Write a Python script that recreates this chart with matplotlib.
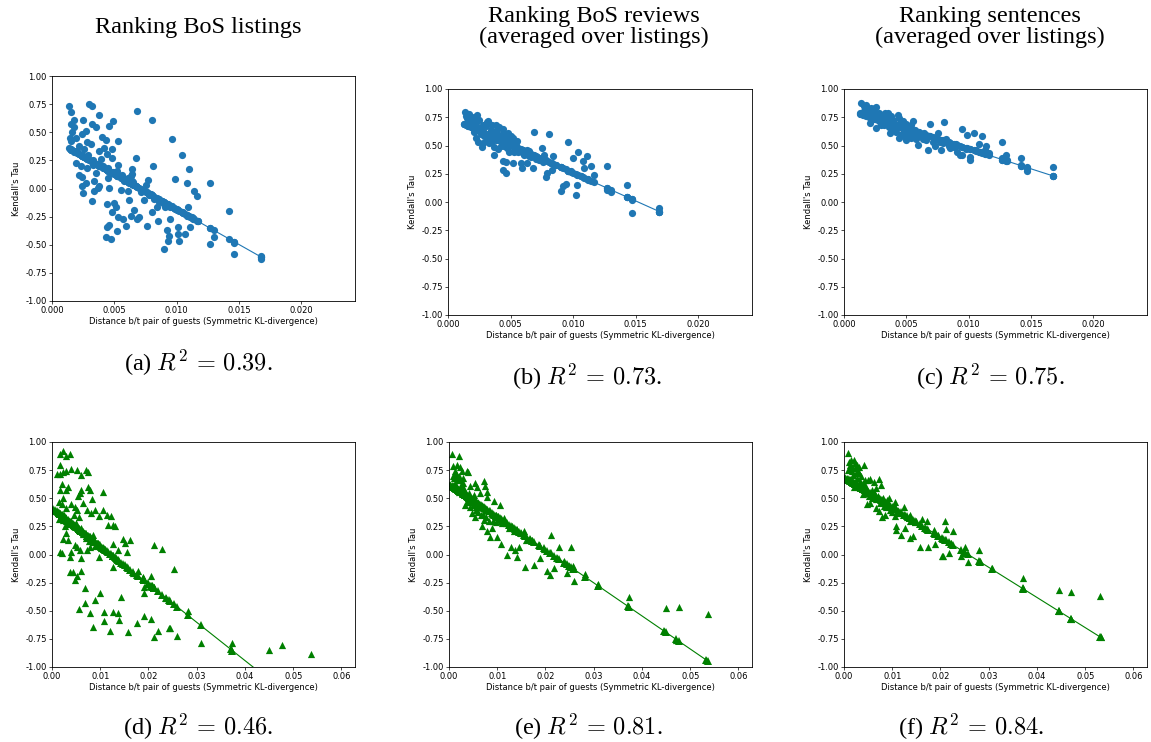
import numpy as np
import matplotlib
matplotlib.use("Agg")
import matplotlib.pyplot as plt

plt.rcParams['mathtext.fontset'] = 'cm'

# ---- data ---------------------------------------------------------------
# (a) ranking BoS listings
x_a = [0.00134, 0.00155, 0.0015, 0.00174, 0.0016, 0.00147, 0.00155, 0.0018, 0.0019, 0.0019,
       0.00214, 0.0024, 0.0024, 0.0025, 0.0023, 0.0022, 0.0024, 0.0025, 0.0027, 0.003,
       0.0032, 0.0032, 0.0035, 0.0038, 0.0031, 0.0028, 0.0026, 0.0028, 0.0027, 0.0032,
       0.0034, 0.0037, 0.0038, 0.0034, 0.0035, 0.0033, 0.0038, 0.004, 0.0043, 0.0044,
       0.0042, 0.0045, 0.0046, 0.0049, 0.0053, 0.0048, 0.0048, 0.0053, 0.0046, 0.0055,
       0.005, 0.0051, 0.0048, 0.0044, 0.0044, 0.0046, 0.0043, 0.0047, 0.0052, 0.0053,
       0.0057, 0.0059, 0.0061, 0.0062, 0.0064, 0.0064, 0.0063, 0.0066, 0.0067, 0.0068,
       0.0068, 0.007, 0.0076, 0.0074, 0.0075, 0.0077, 0.008, 0.0081, 0.008, 0.0084,
       0.0085, 0.0091, 0.0092, 0.0094, 0.0093, 0.009, 0.0096, 0.0095, 0.0099, 0.0101,
       0.0101, 0.0102, 0.0104, 0.0107, 0.0108, 0.0109, 0.011, 0.0111, 0.0114, 0.0116,
       0.0127, 0.0127, 0.013, 0.0142, 0.0146, 0.0146, 0.0168, 0.0168,
       0.0058, 0.0061, 0.0063, 0.0065, 0.0072, 0.0079, 0.0088, 0.0098, 0.0105, 0.0113, 0.0117,
       0.002, 0.0023, 0.0026, 0.0029, 0.0033, 0.0036, 0.0039, 0.0041, 0.0045, 0.0049,
       0.0052, 0.0056, 0.006, 0.0064, 0.0067, 0.0071, 0.0078, 0.0082, 0.0086, 0.009,
       0.0095, 0.01, 0.0104, 0.0108, 0.0112]
y_a = [0.735, 0.68, 0.575, 0.61, 0.50, 0.45, 0.42, 0.55, 0.445, 0.23,
       0.12, 0.10, 0.02, -0.04, 0.20, 0.38, 0.485, 0.605, 0.515, 0.755,
       0.735, 0.575, 0.545, 0.655, 0.40, 0.415, 0.35, 0.185, 0.045, -0.11,
       -0.025, 0.005, 0.02, 0.065, 0.135, 0.205, 0.33, 0.46, 0.43, 0.31,
       0.36, 0.095, 0.555, 0.60, 0.425, 0.35, 0.27, 0.205, 0.005, -0.01,
       -0.13, -0.16, -0.205, -0.135, -0.345, -0.325, -0.435, -0.45, -0.375, -0.25,
       -0.27, -0.33, -0.025, -0.10, 0.17, 0.125, -0.24, -0.195, 0.27, 0.69,
       -0.275, -0.25, -0.33, -0.10, 0.035, 0.075, 0.605, 0.20, -0.205, -0.16,
       -0.285, -0.16, -0.365, -0.42, -0.465, -0.54, 0.44, -0.275, 0.085, -0.34,
       -0.40, -0.47, 0.295, -0.405, 0.045, -0.16, 0.175, -0.345, -0.02, -0.07,
       0.05, -0.495, -0.43, -0.20, -0.485, -0.58, -0.60, -0.63,
       0.07, 0.09, 0.11, 0.06, -0.01, -0.05, -0.11, -0.17, -0.22, -0.27, -0.29,
       0.33, 0.30, 0.28, 0.30, 0.25, 0.22, 0.26, 0.20, 0.18, 0.15,
       0.16, 0.12, 0.08, 0.07, 0.02, -0.03, -0.06, -0.09, -0.12, -0.14,
       -0.16, -0.19, -0.21, -0.24, -0.25]

# (b) ranking BoS reviews
x_b = [0.00134, 0.00126, 0.0017, 0.0015, 0.0019, 0.0021, 0.0023, 0.0025, 0.002, 0.0022,
       0.0024, 0.0027, 0.0028, 0.003, 0.0031, 0.0034, 0.0035, 0.0038, 0.0039, 0.0036,
       0.0038, 0.0037, 0.0037, 0.004, 0.0042, 0.0044, 0.0044, 0.0046, 0.0046, 0.0048,
       0.0047, 0.0049, 0.0052, 0.0054, 0.0053, 0.0044, 0.0046, 0.0044, 0.0046, 0.0049,
       0.0052, 0.0058, 0.0059, 0.0063, 0.0063, 0.0066, 0.0069, 0.0068, 0.0071, 0.0073,
       0.0075, 0.0077, 0.0078, 0.0079, 0.0081, 0.0082, 0.0083, 0.0084, 0.009, 0.009,
       0.0092, 0.0094, 0.0096, 0.0096, 0.01, 0.0102, 0.0103, 0.0104, 0.0108, 0.0109,
       0.0111, 0.0114, 0.0117, 0.0127, 0.0127, 0.013, 0.0143, 0.0143, 0.0147, 0.0147,
       0.0169, 0.0169,
       0.0016, 0.0018, 0.0026, 0.0029, 0.0033, 0.0041, 0.0045, 0.0050, 0.0056, 0.0061,
       0.0065, 0.0070, 0.0076, 0.0086, 0.0098, 0.0106, 0.0112,
       0.0014, 0.0016, 0.0019, 0.0021, 0.0024, 0.0026, 0.0029, 0.0031, 0.0033, 0.0035,
       0.0037, 0.004, 0.0042, 0.0045, 0.0047, 0.005, 0.0052, 0.0055, 0.0028, 0.0032,
       0.0022, 0.0041, 0.0057, 0.006, 0.0065]
y_b = [0.80, 0.69, 0.78, 0.74, 0.72, 0.755, 0.77, 0.725, 0.67, 0.565,
       0.535, 0.49, 0.52, 0.67, 0.705, 0.64, 0.685, 0.685, 0.64, 0.58,
       0.55, 0.49, 0.415, 0.465, 0.595, 0.645, 0.565, 0.52, 0.58, 0.61,
       0.475, 0.535, 0.565, 0.505, 0.445, 0.365, 0.355, 0.28, 0.26, 0.44,
       0.345, 0.345, 0.30, 0.46, 0.345, 0.40, 0.62, 0.30, 0.40, 0.37,
       0.475, 0.415, 0.225, 0.255, 0.605, 0.345, 0.285, 0.405, 0.31, 0.10,
       0.14, 0.16, 0.535, 0.27, 0.39, 0.06, 0.15, 0.44, 0.36, 0.30,
       0.41, 0.315, 0.24, 0.315, 0.11, 0.09, 0.15, 0.04, 0.02, -0.10,
       -0.055, -0.085,
       0.74, 0.70, 0.62, 0.60, 0.52, 0.56, 0.50, 0.53, 0.44, 0.42,
       0.41, 0.38, 0.35, 0.33, 0.27, 0.23, 0.20,
       0.76, 0.70, 0.66, 0.62, 0.66, 0.60, 0.58, 0.55, 0.60, 0.54,
       0.62, 0.58, 0.50, 0.60, 0.55, 0.58, 0.50, 0.54, 0.68, 0.72,
       0.72, 0.66, 0.47, 0.43, 0.45]

# (c) ranking sentences
x_c = [0.00134, 0.0013, 0.0016, 0.0017, 0.0018, 0.002, 0.0021, 0.0023, 0.0025, 0.0026,
       0.0027, 0.0026, 0.0029, 0.0031, 0.0033, 0.0035, 0.0034, 0.0037, 0.0037, 0.0039,
       0.0041, 0.0043, 0.0045, 0.0044, 0.0047, 0.0047, 0.0049, 0.005, 0.0052, 0.0055,
       0.0054, 0.0057, 0.0059, 0.0061, 0.0064, 0.0066, 0.0069, 0.0067, 0.0071, 0.0075,
       0.0077, 0.0078, 0.008, 0.0082, 0.0085, 0.009, 0.0091, 0.0093, 0.0095, 0.0095,
       0.0099, 0.0101, 0.0101, 0.0104, 0.0106, 0.0108, 0.0111, 0.0113, 0.0114, 0.0116,
       0.0127, 0.0127, 0.013, 0.0131, 0.0142, 0.0142, 0.0147, 0.0147, 0.0168, 0.0168,
       0.0019, 0.0024, 0.0028, 0.0032, 0.0036, 0.0040, 0.0046, 0.0051, 0.0058, 0.0063,
       0.0072, 0.0087, 0.0098, 0.0109,
       0.0015, 0.0019, 0.0022, 0.0025, 0.0028, 0.003, 0.0033, 0.0035, 0.0038, 0.004,
       0.0042, 0.0044, 0.0046, 0.0048, 0.005, 0.0052, 0.0054, 0.0056, 0.006, 0.0063,
       0.0068, 0.0073, 0.0079, 0.0084, 0.0088]
y_c = [0.88, 0.785, 0.85, 0.815, 0.86, 0.77, 0.70, 0.80, 0.83, 0.84,
       0.755, 0.655, 0.715, 0.755, 0.785, 0.785, 0.70, 0.745, 0.61, 0.73,
       0.655, 0.77, 0.70, 0.565, 0.715, 0.61, 0.67, 0.55, 0.625, 0.715,
       0.565, 0.64, 0.505, 0.595, 0.61, 0.55, 0.69, 0.46, 0.53, 0.615,
       0.535, 0.46, 0.71, 0.555, 0.475, 0.515, 0.445, 0.42, 0.42, 0.645,
       0.595, 0.395, 0.375, 0.615, 0.46, 0.515, 0.585, 0.46, 0.495, 0.435,
       0.535, 0.39, 0.42, 0.375, 0.39, 0.33, 0.31, 0.27, 0.31, 0.23,
       0.79, 0.74, 0.72, 0.68, 0.66, 0.64, 0.59, 0.60, 0.56, 0.58,
       0.56, 0.50, 0.47, 0.44,
       0.80, 0.78, 0.83, 0.77, 0.79, 0.68, 0.72, 0.75, 0.76, 0.70,
       0.62, 0.74, 0.66, 0.58, 0.69, 0.58, 0.68, 0.60, 0.62, 0.56,
       0.58, 0.50, 0.52, 0.50, 0.49]

# (d) ranking BoS listings, bottom row
x_d = [0.0016, 0.0022, 0.0028, 0.0037, 0.001, 0.0016, 0.0023, 0.003, 0.004, 0.0051,
       0.0061, 0.007, 0.0075, 0.0016, 0.002, 0.0016, 0.0029, 0.0033, 0.0023, 0.0015,
       0.002, 0.003, 0.004, 0.0047, 0.0051, 0.0058, 0.0061, 0.0054, 0.0065, 0.0075,
       0.0078, 0.0082, 0.0073, 0.008, 0.0089, 0.0098, 0.0106, 0.0106, 0.0113, 0.0015,
       0.0022, 0.0026, 0.0029, 0.0033, 0.0023, 0.002, 0.0017, 0.0037, 0.004, 0.0047,
       0.0051, 0.0058, 0.0061, 0.0073, 0.0078, 0.0089, 0.0098, 0.0037, 0.0044, 0.0047,
       0.0051, 0.0061, 0.0068, 0.0056, 0.0068, 0.0078, 0.0085, 0.0089, 0.0099, 0.0107,
       0.0107, 0.0121, 0.0127, 0.0137, 0.0139, 0.0144, 0.0158, 0.0176, 0.019, 0.0205,
       0.0211, 0.0219, 0.0242, 0.0245, 0.0259, 0.0117, 0.0122, 0.013, 0.0127, 0.0126,
       0.0127, 0.0137, 0.0148, 0.0151, 0.0162, 0.0156, 0.0211, 0.0229, 0.0252, 0.0179,
       0.0188, 0.019, 0.019, 0.0205, 0.0207, 0.0211, 0.0374, 0.0308, 0.0449, 0.0476,
       0.0537, 0.0282,
       0.0003, 0.0007, 0.0012, 0.0043, 0.0066, 0.0094, 0.0133, 0.0168, 0.0198, 0.0236,
       0.0370,
       0.0025, 0.003, 0.0035, 0.004, 0.0045, 0.005, 0.0055, 0.006, 0.0065, 0.007,
       0.0077, 0.0085, 0.009, 0.0095, 0.0102, 0.011, 0.0045, 0.0055]
y_d = [0.89, 0.92, 0.88, 0.89, 0.72, 0.72, 0.73, 0.74, 0.76, 0.75,
       0.71, 0.755, 0.73, 0.80, 0.63, 0.57, 0.575, 0.60, 0.50, 0.47,
       0.45, 0.41, 0.445, 0.42, 0.40, 0.55, 0.575, 0.52, 0.455, 0.60,
       0.575, 0.49, 0.40, 0.365, 0.40, 0.345, 0.40, 0.555, 0.355, 0.315,
       0.31, 0.25, 0.19, 0.13, 0.135, 0.01, 0.02, -0.025, 0.025, 0.085,
       0.065, 0.04, -0.035, 0.04, 0.07, 0.115, -0.02, -0.155, -0.155, -0.23,
       -0.195, -0.15, -0.30, -0.48, -0.43, -0.52, -0.64, -0.40, -0.34, -0.51,
       -0.59, -0.68, -0.51, -0.52, -0.58, -0.375, -0.69, -0.61, -0.55, -0.57,
       -0.73, -0.68, -0.65, -0.65, -0.72, 0.265, 0.345, 0.255, 0.26, 0.095,
       -0.11, 0.04, 0.135, 0.10, 0.125, 0.02, 0.085, 0.045, -0.125, -0.15,
       -0.20, -0.285, -0.34, -0.195, -0.27, -0.285, -0.79, -0.79, -0.85, -0.80,
       -0.88, -0.50,
       0.40, 0.39, 0.37, 0.26, 0.19, 0.10, -0.04, -0.16, -0.26, -0.39,
       -0.84,
       0.35, 0.30, 0.27, 0.30, 0.25, 0.28, 0.22, 0.24, 0.18, 0.15,
       0.12, 0.17, 0.08, 0.10, 0.06, 0.05, 0.35, 0.33]

# (e) ranking BoS reviews, bottom row
x_e = [0.0006, 0.0021, 0.0009, 0.0013, 0.0016, 0.0023, 0.0026, 0.0037, 0.004, 0.0016,
       0.0023, 0.003, 0.0013, 0.0026, 0.0033, 0.002, 0.0044, 0.0054, 0.0059, 0.0072,
       0.0075, 0.0079, 0.0079, 0.0065, 0.0051, 0.0043, 0.0037, 0.0033, 0.0044, 0.0047,
       0.0054, 0.0056, 0.0061, 0.0066, 0.0068, 0.0073, 0.0079, 0.0084, 0.0089, 0.0094,
       0.01, 0.0105, 0.0107, 0.0101, 0.0107, 0.0114, 0.0128, 0.012, 0.0136, 0.014,
       0.0145, 0.0131, 0.0141, 0.0155, 0.0159, 0.0157, 0.0173, 0.0176, 0.0187, 0.0189,
       0.0204, 0.0209, 0.0211, 0.0218, 0.0229, 0.0244, 0.0253, 0.0259, 0.0239, 0.0257,
       0.0281, 0.0309, 0.0373, 0.0449, 0.0476, 0.0537,
       0.0003, 0.0011, 0.0019, 0.0028, 0.0048, 0.0069, 0.0097, 0.0118, 0.0150, 0.0168,
       0.0196, 0.0224, 0.0248, 0.0370, 0.0445, 0.0471, 0.0532,
       0.0008, 0.0011, 0.0015, 0.0018, 0.0021, 0.0024, 0.0028, 0.0031, 0.0035, 0.0039,
       0.0042, 0.0046, 0.005, 0.0055, 0.006, 0.0063, 0.007, 0.0076, 0.0082, 0.0092,
       0.0097, 0.011, 0.0125, 0.0135]
y_e = [0.89, 0.88, 0.79, 0.74, 0.80, 0.78, 0.745, 0.74, 0.73, 0.695,
       0.665, 0.64, 0.635, 0.59, 0.56, 0.56, 0.605, 0.635, 0.60, 0.65,
       0.61, 0.56, 0.515, 0.545, 0.53, 0.515, 0.47, 0.44, 0.42, 0.365,
       0.33, 0.40, 0.455, 0.35, 0.255, 0.31, 0.205, 0.16, 0.235, 0.48,
       0.155, 0.44, 0.09, 0.34, 0.295, 0.325, 0.07, 0.0, 0.04, -0.025,
       0.065, 0.25, 0.22, 0.205, 0.125, -0.11, 0.13, -0.09, 0.085, -0.03,
       -0.15, -0.185, 0.17, -0.12, 0.07, -0.165, 0.07, -0.235, -0.055, -0.10,
       -0.175, -0.265, -0.375, -0.475, -0.47, -0.53,
       0.62, 0.60, 0.58, 0.55, 0.49, 0.43, 0.35, 0.28, 0.19, 0.14,
       0.05, -0.03, -0.10, -0.46, -0.68, -0.76, -0.94,
       0.70, 0.68, 0.72, 0.66, 0.70, 0.62, 0.68, 0.58, 0.52, 0.50,
       0.55, 0.47, 0.44, 0.42, 0.38, 0.42, 0.36, 0.33, 0.30, 0.30,
       0.29, 0.28, 0.24, 0.21]

# (f) ranking sentences, bottom row
x_f = [0.0008, 0.001, 0.0015, 0.002, 0.0022, 0.0027, 0.0031, 0.0041, 0.0012, 0.0017,
       0.0024, 0.0032, 0.0036, 0.0017, 0.0024, 0.002, 0.0032, 0.0039, 0.0043, 0.005,
       0.0054, 0.0062, 0.0072, 0.0077, 0.0067, 0.0057, 0.0047, 0.0039, 0.0047, 0.0053,
       0.006, 0.0067, 0.0072, 0.0078, 0.0084, 0.008, 0.0089, 0.0094, 0.0101, 0.0105,
       0.0105, 0.0107, 0.0107, 0.0118, 0.0125, 0.0127, 0.0136, 0.0137, 0.0143, 0.0136,
       0.0157, 0.0162, 0.0173, 0.0175, 0.0187, 0.0189, 0.0203, 0.0206, 0.021, 0.0211,
       0.0217, 0.0226, 0.0242, 0.0251, 0.0257, 0.028, 0.037, 0.0445, 0.0471, 0.0531,
       0.0003, 0.0006, 0.0013, 0.0029, 0.0045, 0.0064, 0.0086, 0.0112, 0.0148, 0.0168,
       0.0195, 0.0222, 0.0248, 0.0282, 0.0306, 0.0371, 0.0445, 0.0471, 0.0532,
       0.0009, 0.0012, 0.0016, 0.0019, 0.0023, 0.0026, 0.0029, 0.0033, 0.0036, 0.004,
       0.0044, 0.0048, 0.0052, 0.0057, 0.0062, 0.0066, 0.007, 0.0075, 0.0082, 0.0088,
       0.0095, 0.01, 0.0115, 0.013, 0.015]
y_f = [0.905, 0.82, 0.84, 0.84, 0.815, 0.80, 0.78, 0.80, 0.77, 0.74,
       0.725, 0.725, 0.695, 0.665, 0.635, 0.60, 0.60, 0.635, 0.665, 0.66,
       0.67, 0.645, 0.67, 0.62, 0.59, 0.575, 0.545, 0.54, 0.45, 0.46,
       0.52, 0.41, 0.385, 0.33, 0.355, 0.50, 0.485, 0.50, 0.41, 0.47,
       0.34, 0.25, 0.215, 0.175, 0.425, 0.24, 0.355, 0.145, 0.165, 0.295,
       0.065, 0.32, 0.295, 0.065, 0.22, 0.095, -0.01, -0.01, 0.30, 0.23,
       0.01, 0.205, -0.01, 0.07, -0.07, 0.04, -0.21, -0.315, -0.33, -0.365,
       0.68, 0.67, 0.66, 0.61, 0.57, 0.52, 0.46, 0.39, 0.29, 0.24,
       0.17, 0.10, 0.03, -0.06, -0.12, -0.30, -0.50, -0.57, -0.73,
       0.75, 0.80, 0.78, 0.71, 0.77, 0.68, 0.74, 0.65, 0.60, 0.58,
       0.62, 0.57, 0.52, 0.50, 0.56, 0.49, 0.52, 0.46, 0.43, 0.42,
       0.40, 0.38, 0.37, 0.33, 0.30]

xs = [x_a, x_b, x_c, x_d, x_e, x_f]
ys = [y_a, y_b, y_c, y_d, y_e, y_f]

# fitted regression lines (intercept, slope)
fit_intercepts = [0.441, 0.755, 0.826, 0.417, 0.63, 0.69]
fit_slopes = [-62.6, -49.7, -35.5, -34.0, -29.4, -26.8]

titles = ["Ranking BoS listings",
          "Ranking BoS reviews\n(averaged over listings)",
          "Ranking sentences\n(averaged over listings)"]
captions = [r"(a) $R^2\,=\,0.39$.", r"(b) $R^2\,=\,0.73$.", r"(c) $R^2\,=\,0.75$.",
            r"(d) $R^2\,=\,0.46$.", r"(e) $R^2\,=\,0.81$.", r"(f) $R^2\,=\,0.84$."]
yticks = [-1.0, -0.75, -0.5, -0.25, 0.0, 0.25, 0.5, 0.75, 1.0]
xticks_top = [0.000, 0.005, 0.010, 0.015, 0.020]
xticks_bot = [0.00, 0.01, 0.02, 0.03, 0.04, 0.05, 0.06]

W, H = 1151, 742
fig = plt.figure(figsize=(W / 100, H / 100), dpi=100)

# axes boxes in pixels: left, top, right, bottom
boxes = [(52, 76, 355, 301), (448, 89, 752, 315), (844, 89, 1147, 315),
         (52, 442, 355, 667), (449, 442, 752, 667), (844, 442, 1147, 667)]

for i in range(6):
    l, t, r, b = boxes[i]
    ax = fig.add_axes([l / W, 1 - b / H, (r - l) / W, (b - t) / H])
    x = np.array(xs[i])
    y = np.array(ys[i])
    top = i < 3
    col = '#1f77b4' if top else 'green'
    mk = 'o' if top else '^'
    ax.scatter(x, y, s=27, c=col, marker=mk, linewidths=0)
    xo = np.sort(x)
    ax.plot(xo, fit_intercepts[i] + fit_slopes[i] * xo, color=col, lw=0.8,
            marker=mk, ms=5.2, mew=0)
    ax.set_ylim(-1.0, 1.0)
    ax.set_yticks(yticks)
    ax.set_yticklabels(['%.2f' % v for v in yticks])
    if top:
        ax.set_xlim(0, 0.0243)
        ax.set_xticks(xticks_top)
        ax.set_xticklabels(['%.3f' % v for v in xticks_top])
    else:
        ax.set_xlim(0, 0.0628)
        ax.set_xticks(xticks_bot)
        ax.set_xticklabels(['%.2f' % v for v in xticks_bot])
    ax.tick_params(labelsize=6, length=2.2, width=0.5, pad=1.5)
    for sp in ax.spines.values():
        sp.set_linewidth(0.6)
    ax.set_ylabel("Kendall's Tau", fontsize=6, labelpad=3)
    ax.set_xlabel("Distance b/t pair of guests (Symmetric KL-divergence)", fontsize=6, labelpad=1.5)

serif = ['Liberation Serif', 'DejaVu Serif']
title_pos = [(198, 27), (594, 27), (990, 27)]
for (px, py), tt in zip(title_pos, titles):
    fig.text(px / W, 1 - py / H, tt, ha='center', va='center', fontsize=17.5,
             family=serif, linespacing=1.0)

cap_pos = [(198, 363), (587, 377), (990, 377), (198, 727), (588, 727), (971, 727)]
for (px, py), cc in zip(cap_pos, captions):
    fig.text(px / W, 1 - py / H, cc, ha='center', va='center', fontsize=17.5, family=serif)

fig.savefig("out.png", dpi=100)
